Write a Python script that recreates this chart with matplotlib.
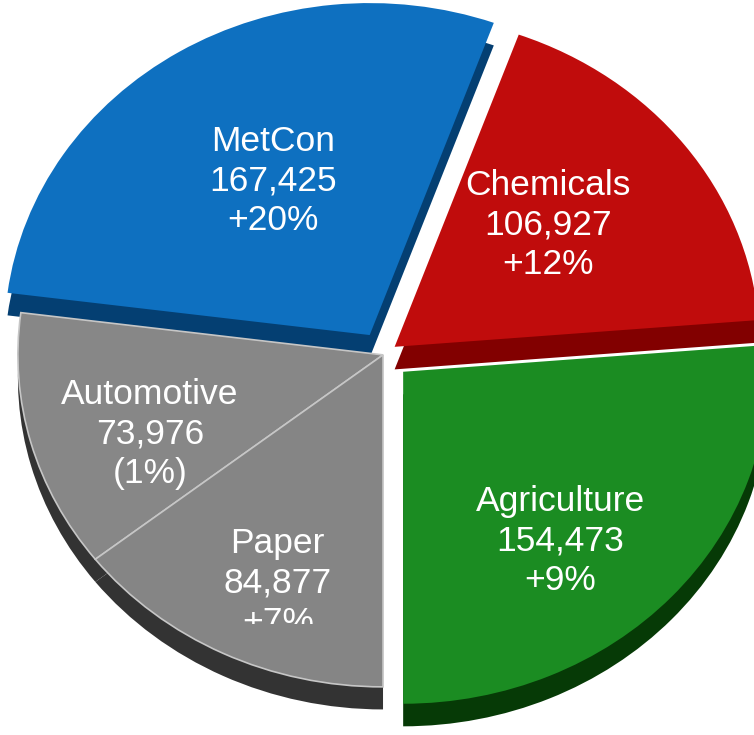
import matplotlib
matplotlib.use('Agg')
import matplotlib.pyplot as plt
import numpy as np
from matplotlib.transforms import Bbox, TransformedBbox

plt.rcParams['font.family'] = ['Liberation Sans', 'DejaVu Sans']

# slices go counter-clockwise from the bottom (Agriculture first)
segments = ['Agriculture', 'Chemicals', 'MetCon', 'Automotive', 'Paper']
volumes = [154473, 106927, 167425, 73976, 84877]
changes = ['+9%', '+12%', '+20%', '(1%)', '+7%']

top_colors = ['#1b8c22', '#c00c0c', '#0e70c0', '#878787', '#858585']
side_colors = ['#063a06', '#820000', '#043f72', '#333333', '#333333']
explode = [0.075, 0.04, 0.07, 0.0, 0.0]

# label placement: distance from slice tip and angle nudge (deg)
label_r = [0.666, 0.558, 0.534, 0.681, 0.744]
label_turn = [-7.1, 3.7, -1.6, 5.1, 3.2]

depth = 0.068

fig = plt.figure(figsize=(7.54, 7.35), dpi=100)
ax = fig.add_axes([0, 0, 1, 1])

# side faces: same pie pushed down, drawn first
ax.pie(volumes, colors=side_colors, startangle=-90, explode=explode,
       center=(0, -depth), wedgeprops=dict(linewidth=0))

# top faces
wedges, _ = ax.pie(volumes, colors=top_colors, startangle=-90, explode=explode,
                   wedgeprops=dict(linewidth=0))
for w, c in zip(wedges, segments):
    if c in ('Automotive', 'Paper'):
        w.set_edgecolor('#c6c6c6')
        w.set_linewidth(1.2)

# the Paper label box cuts off its last line
clip_box = TransformedBbox(Bbox([[0, 0.151], [1, 1]]), fig.transFigure)

for w, name, v, ch, rr, turn in zip(wedges, segments, volumes, changes,
                                     label_r, label_turn):
    mid = np.deg2rad((w.theta1 + w.theta2) / 2 + turn)
    cx, cy = w.center
    t = ax.text(cx + rr * np.cos(mid), cy + rr * np.sin(mid),
                f'{name}\n{v:,}\n{ch}', color='white', fontsize=25.5,
                ha='center', va='center', linespacing=1.25)
    if name == 'Paper':
        t.set_clip_box(clip_box)
        t.set_clip_on(True)

ax.set_xlim(-1.049, 1.016)
ax.set_ylim(-1.145, 1.069)
ax.set_aspect('auto')
ax.axis('off')

fig.savefig('out.png', dpi=100)
